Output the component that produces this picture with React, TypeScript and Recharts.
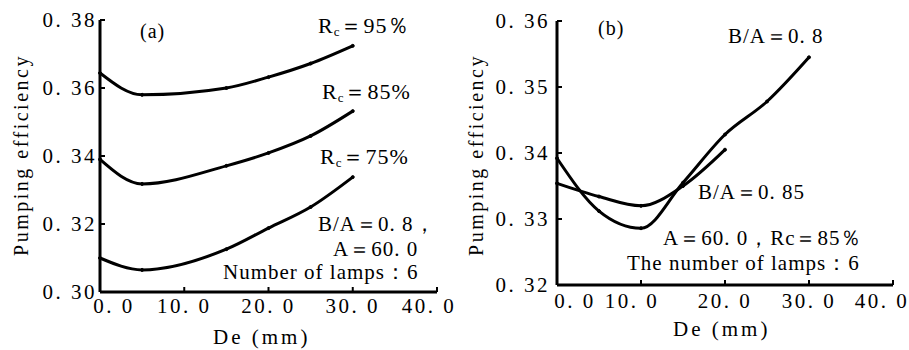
import React from "react";
import { LineChart, Line, XAxis, YAxis } from "recharts";

// panel (a): pumping efficiency vs De for three Rc values
const deA = [0, 5, 15, 20, 25, 30];
const rc95 = [0.3644, 0.358, 0.36, 0.3632, 0.3672, 0.3724];
const rc85 = [0.339, 0.3318, 0.3371, 0.3409, 0.3459, 0.3532];
const rc75 = [0.31, 0.3065, 0.3126, 0.3188, 0.325, 0.3338];

// panel (b): two B/A ratios
const deB = [0, 5, 10, 15, 20, 25, 30];
const ba08 = [0.3392, 0.3312, 0.3286, 0.3355, 0.3428, 0.3478, 0.3545];
const ba085 = [0.3354, 0.3334, 0.332, 0.335, 0.3405, null, null];

const xTicks = [0, 10, 20, 30, 40];
const yTicksA = [0.3, 0.32, 0.34, 0.36, 0.38];
const yTicksB = [0.32, 0.33, 0.34, 0.35, 0.36];

const dataA = deA.map((de, i) => ({ de, rc95: rc95[i], rc85: rc85[i], rc75: rc75[i] }));
const dataB = deB.map((de, i) => ({ de, ba08: ba08[i], ba085: ba085[i] }));

const FONT = "Liberation Serif, DejaVu Serif, serif";
const fmt = (v: number, d: number) => v.toFixed(d).replace(".", ". ");

const axisLine = { stroke: "#000", strokeWidth: 3 };
const tickLine = { stroke: "#000", strokeWidth: 2 };

function makeXTick(shift: Record<number, number>) {
  return (props: any) => {
    const { x, y, payload } = props;
    const dx = shift[payload.value] ?? 0;
    return (
      <text x={x + dx} y={y} dy={14} textAnchor="middle" style={{ fontFamily: FONT }} fontSize={21} letterSpacing={2.5} fill="#000">
        {fmt(payload.value, 1)}
      </text>
    );
  };
}

function YTick(props: any) {
  const { x, y, payload } = props;
  return (
    <text x={x} y={y} dy={7} textAnchor="end" style={{ fontFamily: FONT }} fontSize={21} letterSpacing={2.5} fill="#000">
      {fmt(payload.value, 2)}
    </text>
  );
}

function Note({ left, top, size = 21, spacing = 1, children }: any) {
  return (
    <div
      style={{
        position: "absolute",
        left,
        top,
        fontFamily: FONT,
        fontSize: size,
        lineHeight: 1,
        letterSpacing: spacing,
        whiteSpace: "nowrap",
        color: "#000",
      }}
    >
      {children}
    </div>
  );
}

function YTitle({ cx, cy }: { cx: number; cy: number }) {
  return (
    <div
      style={{
        position: "absolute",
        left: cx,
        top: cy,
        transform: "translate(-50%, -50%) rotate(-90deg)",
        fontFamily: FONT,
        fontSize: 20,
        lineHeight: 1,
        letterSpacing: 2.5,
        whiteSpace: "nowrap",
      }}
    >
      Pumping efficiency
    </div>
  );
}

const Rc = ({ v }: { v: string }) => (
  <span>
    R<span style={{ fontSize: 13, position: "relative", top: 3 }}>c</span>＝{v}
  </span>
);

export default function App() {
  const line = (key: string) => (
    <Line
      key={key}
      dataKey={key}
      type="monotone"
      stroke="#000"
      strokeWidth={3}
      dot={{ r: 1.5, fill: "#000", stroke: "#000", strokeWidth: 1 }}
      isAnimationActive={false}
      connectNulls={false}
    />
  );

  return (
    <div style={{ position: "absolute", left: 0, top: 0, width: 909, height: 350, background: "#fff", overflow: "hidden", fontFamily: FONT }}>
      <div style={{ position: "absolute", left: 0, top: 0 }}>
        <LineChart width={460} height={350} data={dataA} margin={{ top: 20, right: 23, bottom: 0, left: 0 }}>
          <XAxis
            dataKey="de"
            type="number"
            domain={[0, 40]}
            ticks={xTicks}
            height={58}
            axisLine={axisLine}
            tickLine={tickLine}
            tickSize={-5}
            tickMargin={12}
            tick={makeXTick({ 0: 14, 40: -8 })}
          />
          <YAxis
            type="number"
            domain={[0.3, 0.38]}
            ticks={yTicksA}
            width={100}
            axisLine={axisLine}
            tickLine={tickLine}
            tickSize={-5}
            tickMargin={8}
            tick={YTick}
            allowDataOverflow
          />
          {line("rc95")}
          {line("rc85")}
          {line("rc75")}
        </LineChart>
      </div>
      <div style={{ position: "absolute", left: 460, top: 0 }}>
        <LineChart width={449} height={350} data={dataB} margin={{ top: 21, right: 16, bottom: 0, left: 0 }}>
          <XAxis
            dataKey="de"
            type="number"
            domain={[0, 40]}
            ticks={xTicks}
            height={65}
            axisLine={axisLine}
            tickLine={tickLine}
            tickSize={-5}
            tickMargin={14}
            tick={makeXTick({ 0: 18, 10: -9, 40: -11 })}
          />
          <YAxis
            type="number"
            domain={[0.32, 0.36]}
            ticks={yTicksB}
            width={97}
            axisLine={axisLine}
            tickLine={tickLine}
            tickSize={-5}
            tickMargin={12}
            tick={YTick}
            allowDataOverflow
          />
          {line("ba08")}
          {line("ba085")}
        </LineChart>
      </div>

      <YTitle cx={21} cy={155} />
      <YTitle cx={476} cy={155} />

      <Note left={140} top={21} size={20}>(a)</Note>
      <Note left={318} top={15} size={22}><Rc v="95％" /></Note>
      <Note left={322} top={81} size={22}><Rc v="85%" /></Note>
      <Note left={320} top={146} size={22}><Rc v="75%" /></Note>
      <Note left={318} top={214} size={21}>B/A＝0. 8，</Note>
      <Note left={333} top={239} size={21}>A＝60. 0</Note>
      <Note left={223} top={262} size={21}>Number of lamps：6</Note>
      <Note left={213} top={327} size={21} spacing={3}>De (mm)</Note>

      <Note left={598} top={18} size={20}>(b)</Note>
      <Note left={728} top={26} size={21}>B/A＝0. 8</Note>
      <Note left={698} top={182} size={21}>B/A＝0. 85</Note>
      <Note left={663} top={228} size={21}>A＝60. 0，Rc＝85％</Note>
      <Note left={627} top={253} size={21}>The number of lamps：6</Note>
      <Note left={673} top={319} size={21} spacing={3}>De (mm)</Note>
    </div>
  );
}
